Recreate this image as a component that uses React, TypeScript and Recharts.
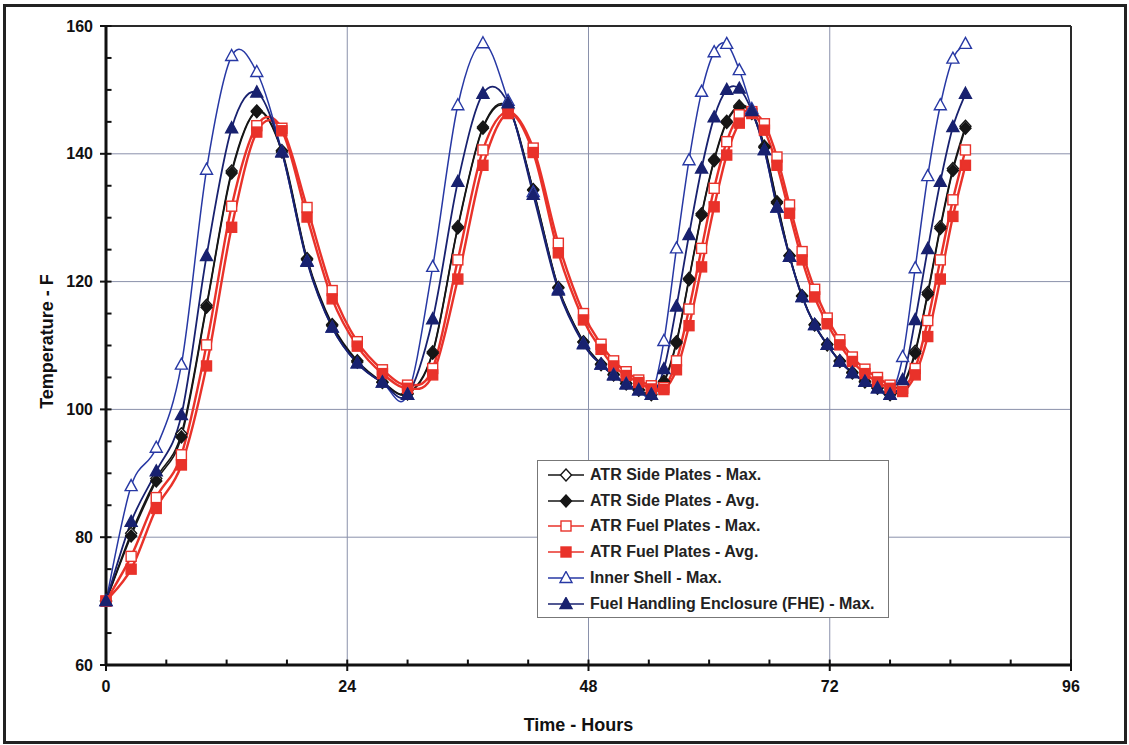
import { LineChart, Line, XAxis, YAxis, CartesianGrid, ReferenceLine, Legend } from "recharts";

const FONT = "'Liberation Sans', Arial, Helvetica, sans-serif";

// time of each output step (hours)
const hours = [
  0, 2.5, 5, 7.5, 10, 12.5, 15, 17.5, 20, 22.5, 25, 27.5, 30, 32.5, 35, 37.5, 40, 42.5, 45, 47.5,
  49.25, 50.5, 51.75, 53, 54.25, 55.5, 56.75, 58, 59.25, 60.5, 61.75, 63, 64.25, 65.5, 66.75, 68,
  69.25, 70.5, 71.75, 73, 74.25, 75.5, 76.75, 78, 79.25, 80.5, 81.75, 83, 84.25, 85.5,
];

const sideMax = [
  70, 80.6, 89.2, 96.2, 116.3, 137.3, 146.7, 140.5, 123.6, 113.3, 107.6, 104.3, 102.5, 109.0, 128.6, 144.2, 147.2, 134.4, 119.1, 110.6,
  107.1, 105.5, 104.1, 103.1, 102.4, 104.4, 110.6, 120.5, 130.6, 139.1, 145.1, 147.5, 146.5, 141.2, 132.5, 124.1,
  117.8, 113.3, 110.2, 107.6, 105.8, 104.4, 103.4, 102.4, 103.8, 109.1, 118.3, 128.6, 137.7, 144.3,
];
const sideAvg = [
  70, 80.2, 88.8, 95.7, 116.0, 137.0, 146.6, 140.3, 123.4, 113.1, 107.4, 104.2, 102.4, 108.8, 128.4, 144.0, 147.0, 134.3, 119.0, 110.5,
  107.0, 105.4, 104.0, 103.0, 102.3, 104.2, 110.4, 120.3, 130.4, 138.9, 144.9, 147.3, 146.3, 141.0, 132.3, 124.0,
  117.7, 113.2, 110.1, 107.5, 105.7, 104.3, 103.3, 102.3, 103.5, 108.8, 118.0, 128.3, 137.4, 144.0,
];
const fuelMax = [
  70, 77.0, 86.2, 92.9, 110.1, 131.8, 144.4, 144.0, 131.6, 118.6, 110.6, 106.2, 103.8, 106.4, 123.4, 140.6, 146.6, 140.9, 126.0, 115.0,
  110.2, 107.6, 105.9, 104.6, 103.7, 103.4, 107.6, 115.7, 125.2, 134.6, 141.9, 146.1, 146.6, 144.7, 139.5, 132.0,
  124.7, 118.8, 114.3, 110.9, 108.2, 106.3, 105.0, 103.8, 103.3, 106.4, 113.9, 123.4, 132.8, 140.6,
];
const fuelAvg = [
  70, 75.0, 84.5, 91.3, 106.8, 128.5, 143.4, 143.6, 130.1, 117.3, 109.9, 105.6, 103.3, 105.4, 120.4, 138.2, 146.3, 140.2, 124.5, 114.0,
  109.4, 106.8, 105.3, 104.2, 103.2, 103.1, 106.2, 113.1, 122.3, 131.7, 139.8, 144.8, 146.3, 143.7, 138.2, 130.7,
  123.4, 117.6, 113.4, 110.1, 107.5, 105.6, 104.3, 103.3, 102.8, 105.4, 111.4, 120.4, 130.2, 138.2,
];
const innerMax = [
  70, 88.0, 94.0, 107.0, 137.5, 155.3, 152.8, 140.3, 123.2, 112.8, 107.2, 104.2, 102.3, 122.3, 147.6, 157.3, 148.3, 134.0, 118.8, 110.3,
  107.0, 105.4, 104.0, 103.0, 102.3, 110.7, 125.2, 139.0, 149.7, 155.9, 157.2, 153.1, 147.0, 140.6, 131.6, 123.9,
  117.6, 113.2, 110.1, 107.5, 105.7, 104.3, 103.3, 102.3, 108.2, 122.1, 136.5, 147.6, 154.9, 157.2,
];
const fheMax = [
  70, 82.4, 90.3, 99.1, 124.0, 144.0, 149.6, 140.2, 123.1, 112.8, 107.2, 104.2, 102.3, 114.1, 135.6, 149.4, 147.9, 133.6, 118.6, 110.2,
  107.0, 105.3, 103.9, 103.0, 102.3, 106.3, 116.1, 127.3, 137.7, 145.7, 150.0, 150.2, 146.7, 140.6, 131.6, 123.9,
  117.6, 113.2, 110.1, 107.5, 105.7, 104.3, 103.3, 102.3, 104.6, 114.0, 125.1, 135.6, 144.2, 149.4,
];

const majorHours = [0, 24, 48, 72, 96];
const minorHours = [6, 12, 18, 30, 36, 42, 54, 60, 66, 78, 84, 90];
const tempTicks = [60, 80, 100, 120, 140, 160];
const minorTemps = [65, 70, 75, 85, 90, 95, 105, 110, 115, 125, 130, 135, 145, 150, 155];

type Shape = "diamond" | "square" | "triangle";
type Series = { key: string; name: string; values: number[]; color: string; width: number; shape: Shape; open: boolean };

const series: Series[] = [
  { key: "sideMax", name: "ATR Side Plates - Max.", values: sideMax, color: "#161616", width: 1.6, shape: "diamond", open: true },
  { key: "sideAvg", name: "ATR Side Plates - Avg.", values: sideAvg, color: "#161616", width: 1.6, shape: "diamond", open: false },
  { key: "fuelMax", name: "ATR Fuel Plates - Max.", values: fuelMax, color: "#e9322a", width: 2.4, shape: "square", open: true },
  { key: "fuelAvg", name: "ATR Fuel Plates - Avg.", values: fuelAvg, color: "#e9322a", width: 2.4, shape: "square", open: false },
  { key: "innerMax", name: "Inner Shell - Max.", values: innerMax, color: "#2738a4", width: 1.5, shape: "triangle", open: true },
  { key: "fheMax", name: "Fuel Handling Enclosure (FHE) - Max.", values: fheMax, color: "#18216f", width: 1.8, shape: "triangle", open: false },
];

const data = hours.map((h, i) => {
  const row: any = { hour: h };
  series.forEach((s) => (row[s.key] = s.values[i]));
  return row;
});

// Excel-style smoothed line (Catmull-Rom through the points)
const excelCurve: any = (context: any) => {
  let xs: number[] = [];
  let ys: number[] = [];
  return {
    areaStart() {},
    areaEnd() {},
    lineStart() {
      xs = [];
      ys = [];
    },
    point(x: number, y: number) {
      xs.push(+x);
      ys.push(+y);
    },
    lineEnd() {
      const n = xs.length;
      if (!n) return;
      context.moveTo(xs[0], ys[0]);
      for (let i = 0; i < n - 1; i++) {
        const a = Math.max(i - 1, 0);
        const d = Math.min(i + 2, n - 1);
        context.bezierCurveTo(
          xs[i] + (xs[i + 1] - xs[a]) / 6,
          ys[i] + (ys[i + 1] - ys[a]) / 6,
          xs[i + 1] - (xs[d] - xs[i]) / 6,
          ys[i + 1] - (ys[d] - ys[i]) / 6,
          xs[i + 1],
          ys[i + 1]
        );
      }
    },
  };
};

function Marker({ cx, cy, s }: { cx: number; cy: number; s: Series }) {
  const fill = s.open ? "#fff" : s.color;
  const sw = 1.4;
  if (s.shape === "diamond") {
    return <polygon points={`${cx},${cy - 6} ${cx + 5.5},${cy} ${cx},${cy + 6} ${cx - 5.5},${cy}`} fill={fill} stroke={s.color} strokeWidth={sw} />;
  }
  if (s.shape === "square") {
    return <rect x={cx - 5} y={cy - 5} width={10} height={10} fill={fill} stroke={s.color} strokeWidth={sw} />;
  }
  return <polygon points={`${cx},${cy - 6.5} ${cx + 6},${cy + 4.5} ${cx - 6},${cy + 4.5}`} fill={fill} stroke={s.color} strokeWidth={sw} />;
}

function LegendBox() {
  return (
    <div
      style={{
        width: 352,
        height: 158,
        boxSizing: "border-box",
        border: "1px solid #777",
        background: "#fff",
        paddingTop: 1,
        fontFamily: FONT,
        fontWeight: 700,
        fontSize: 16,
        color: "#222",
      }}
    >
      {series.map((s) => (
        <div key={s.key} style={{ display: "flex", alignItems: "center", height: 25.8, paddingLeft: 10 }}>
          <svg width={36} height={14} style={{ marginRight: 6 }}>
            <line x1={0} y1={7} x2={36} y2={7} stroke={s.color} strokeWidth={1.5} />
            <Marker cx={18} cy={7} s={s} />
          </svg>
          <span>{s.name}</span>
        </div>
      ))}
    </div>
  );
}

const tickStyle = { fill: "#111", fontSize: 16, fontWeight: 700, fontFamily: FONT };
const titleStyle = { fill: "#111", fontSize: 18, fontWeight: 700, fontFamily: FONT };

export default function App() {
  return (
    <div style={{ position: "absolute", left: 0, top: 0, width: 1129, height: 745, background: "#fff" }}>
      <LineChart width={1129} height={745} data={data} margin={{ top: 26, right: 58, bottom: 0, left: 0 }}>
        <CartesianGrid stroke="#8a91ab" strokeWidth={1} />
        <XAxis
          dataKey="hour"
          type="number"
          domain={[0, 96]}
          ticks={majorHours}
          height={80}
          tickSize={6}
          tickMargin={10}
          tick={tickStyle}
          axisLine={{ stroke: "#111", strokeWidth: 3 }}
          tickLine={{ stroke: "#111", strokeWidth: 2 }}
          label={{ value: "Time - Hours", position: "insideBottom", offset: 14, dx: -10, style: { ...titleStyle } }}
        />
        <YAxis
          type="number"
          domain={[60, 160]}
          ticks={tempTicks}
          width={106}
          tickSize={6}
          tickMargin={7}
          tick={tickStyle}
          axisLine={{ stroke: "#111", strokeWidth: 3 }}
          tickLine={{ stroke: "#111", strokeWidth: 2 }}
          label={{ value: "Temperature - F", angle: -90, position: "insideLeft", offset: 47, dy: -4, style: { ...titleStyle, textAnchor: "middle" } }}
        />
        <ReferenceLine y={160} stroke="#2a2a2a" strokeWidth={2} />
        <ReferenceLine x={96} stroke="#2a2a2a" strokeWidth={2} />
        {/* minor tick marks, pointing into the plot */}
        {minorHours.map((h) => (
          <ReferenceLine key={`mx${h}`} segment={[{ x: h, y: 60 }, { x: h, y: 60.85 }]} stroke="#111" strokeWidth={2} />
        ))}
        {minorTemps.concat(tempTicks).map((t) => (
          <ReferenceLine key={`my${t}`} segment={[{ x: 0, y: t }, { x: 0.55, y: t }]} stroke="#111" strokeWidth={2} />
        ))}
        {majorHours.map((h) => (
          <ReferenceLine key={`Mx${h}`} segment={[{ x: h, y: 60 }, { x: h, y: 60.85 }]} stroke="#111" strokeWidth={2} />
        ))}
        {series.map((s) => (
          <Line
            key={s.key}
            dataKey={s.key}
            name={s.name}
            type={excelCurve}
            stroke={s.color}
            strokeWidth={s.width}
            isAnimationActive={false}
            activeDot={false}
            dot={(p: any) => <Marker key={`${s.key}-${p.index}`} cx={p.cx} cy={p.cy} s={s} />}
          />
        ))}
        <Legend
          layout="vertical"
          verticalAlign="middle"
          align="center"
          wrapperStyle={{ left: 537, top: 460, width: 352, height: 158 }}
          content={() => <LegendBox />}
        />
      </LineChart>
      <div
        style={{
          position: "absolute",
          left: 3,
          top: 4,
          width: 1124,
          height: 740,
          border: "3px solid #222",
          boxSizing: "border-box",
          pointerEvents: "none",
        }}
      />
    </div>
  );
}
